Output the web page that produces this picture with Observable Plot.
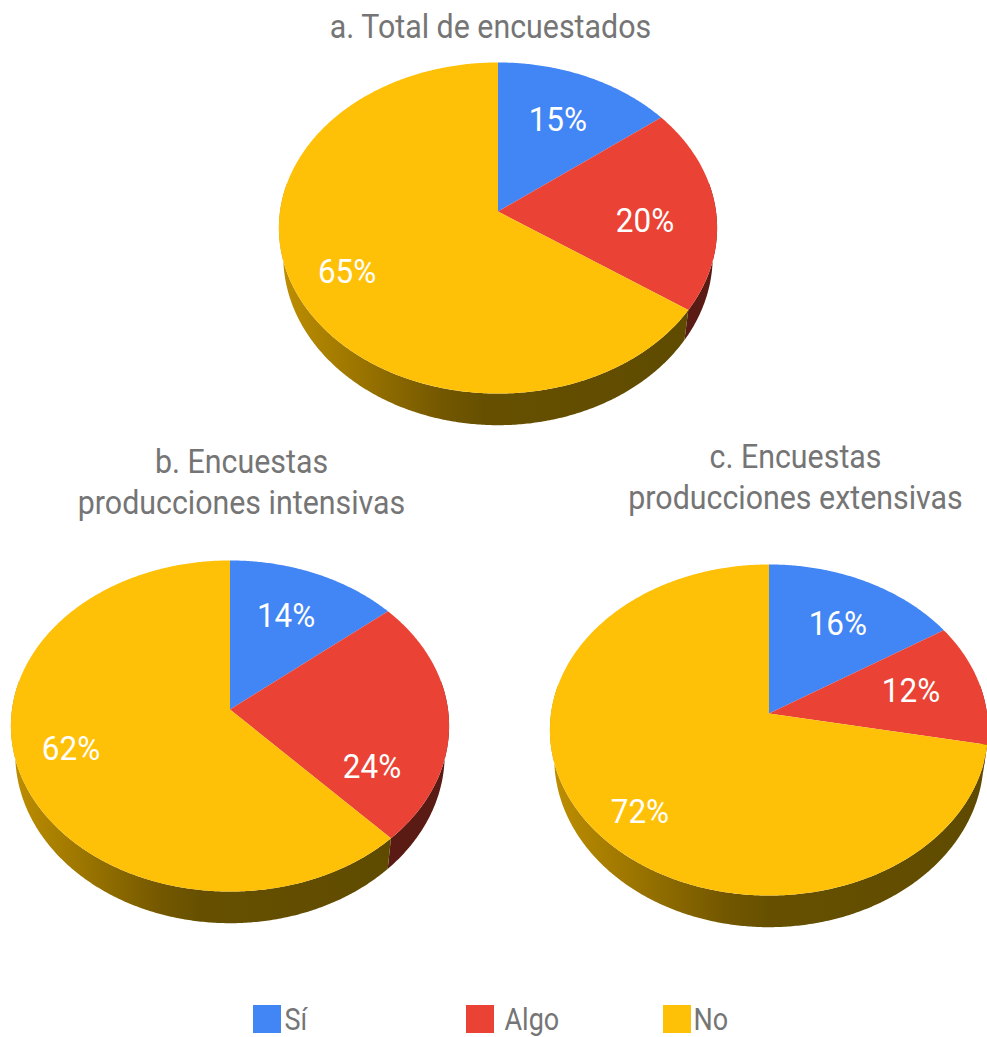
<!DOCTYPE html>
<html>
<head>
<meta charset="utf-8">
<script src="https://cdn.jsdelivr.net/npm/d3@7"></script>
<script src="https://cdn.jsdelivr.net/npm/@observablehq/plot@0.6"></script>
<style>html,body{margin:0;padding:0;background:#fff}svg{display:block}</style>
</head>
<body>
<div id="chart"></div>
<script>
// Data
const categories = ["Sí", "Algo", "No"];
const totalValues = [14.6, 20, 65.4];
const intensiveValues = [14, 24, 62];
const extensiveValues = [16, 12, 72];
const shownLabels = [["15%", "20%", "65%"], ["14%", "24%", "62%"], ["16%", "12%", "72%"]];
const titleLines = [["a. Total de encuestados"], ["b. Encuestas", "producciones intensivas"], ["c. Encuestas", "producciones extensivas"]];

// Styles
const faceColors = ["#4285f4", "#ea4335", "#ffc107"];
const sideFills = ["#1d3f7a", "#5a1b15", "url(#sideNo)"];
const textColor = "#757575";
const W = 987, H = 1037;
const textSqueeze = [0.925, 0.92, 0.87]; // percent labels, titles, legend

// Layout: pie centres, title anchors, label polar placement
const pieCx = [497.5, 229.5, 768.5], pieCy = [211, 709, 713];
const titleX = [490, 241, 795], titleY = [[27], [462, 503], [457, 498]];
const labelAngle = [[26.3, 95.2, 241.7], [24.4, 118.5, 251.5], [30.2, 78.4, 224.4]];
const labelRadius = [[.656, .673, .758], [.66, .716, .751], [.664, .674, .798]];
const legendX = [253, 466, 663], legendTextX = [284, 504, 693];
const legendY = 1005, legendSize = 28;

// Tilted-disc projection of the unit circle
const A = 218, B = 163.9, K = 0.0997, RIM_SX = 0.98, RIM_SY = 1.02, RIM_DROP = 28;
function proj(p, deg, r = 1, rim = false) {
  const t = deg * Math.PI / 180, u = r * Math.sin(t), v = r * Math.cos(t), w = 1 + K * v;
  const sx = rim ? RIM_SX : 1, sy = rim ? RIM_SY : 1, d = rim ? RIM_DROP : 0;
  return {x: pieCx[p] + sx * A * u / w, y: pieCy[p] + d - sy * B * v / w};
}
const allValues = [totalValues, intensiveValues, extensiveValues];
const faces = [], sides = [], labels = [];
allValues.forEach((vals, p) => {
  const total = d3.sum(vals);
  let acc = 0;
  vals.forEach((val, i) => {
    const a0 = acc / total * 360, a1 = (acc + val) / total * 360;
    acc += val;
    const id = `f${p}-${i}`;
    faces.push({id, category: categories[i], ...proj(p, 0, 0)});
    const steps = Math.ceil(a1 - a0) * 2;
    for (let k = 0; k <= steps; k++) faces.push({id, category: categories[i], ...proj(p, a0 + (a1 - a0) * k / steps)});
    const s0 = Math.max(a0, 80), s1 = Math.min(a1, 280);
    if (s1 > s0) {
      const n = Math.ceil(s1 - s0) * 2, sid = `s${p}-${i}`;
      for (let k = 0; k <= n; k++) sides.push({id: sid, cat: i, ...proj(p, s0 + (s1 - s0) * k / n)});
      for (let k = n; k >= 0; k--) sides.push({id: sid, cat: i, ...proj(p, s0 + (s1 - s0) * k / n, 1, true)});
    }
    labels.push({text: shownLabels[p][i], ...proj(p, labelAngle[p][i], labelRadius[p][i])});
  });
});
const titles = titleLines.flatMap((lines, p) => lines.map((text, i) => ({text, x: titleX[p], y: titleY[p][i]})));
const legend = categories.map((c, i) => ({c, x1: legendX[i], x2: legendX[i] + legendSize, tx: legendTextX[i]}));

function gradientDefs() {
  const ns = "http://www.w3.org/2000/svg";
  const defs = document.createElementNS(ns, "defs");
  const g = document.createElementNS(ns, "linearGradient");
  g.setAttribute("id", "sideNo");
  [[0, "#bf8f00"], [.2, "#9a7400"], [.4, "#735700"], [.5, "#665000"], [1, "#5f4b00"]].forEach(([o, c]) => {
    const s = document.createElementNS(ns, "stop");
    s.setAttribute("offset", o); s.setAttribute("stop-color", c);
    g.appendChild(s);
  });
  defs.appendChild(g);
  return defs;
}

const chart = Plot.plot({
  width: W, height: H, margin: 0,
  x: {domain: [0, W], range: [0, W], axis: null},
  y: {domain: [0, H], range: [0, H], axis: null},
  color: {domain: categories, range: faceColors},
  style: {background: "#fff", fontFamily: "Roboto"},
  marks: [
    gradientDefs,
    ...sideFills.map((f, i) => Plot.line(sides.filter(d => d.cat === i), {x: "x", y: "y", z: "id", fill: f, stroke: "none"})),
    Plot.line(faces, {x: "x", y: "y", z: "id", fill: "category", stroke: "none"}),
    Plot.text(labels, {x: "x", y: "y", text: "text", fill: "#fff", fontSize: 34, fontFamily: "Roboto"}),
    Plot.text(titles, {x: "x", y: "y", text: "text", fill: textColor, fontSize: 33, fontFamily: "Roboto"}),
    Plot.rectY(legend, {x1: "x1", x2: "x2", y1: () => legendY, y2: () => legendY + legendSize, fill: "c"}),
    Plot.text(legend, {x: "tx", y: () => legendY + legendSize / 2 + 1, text: "c", textAnchor: "start", fill: textColor, fontSize: 31, fontFamily: "Roboto"})
  ]
});
document.getElementById("chart").appendChild(chart);
// The reference's lettering is horizontally condensed: squeeze the glyphs, keeping real text.
chart.querySelectorAll('g[aria-label="text"]').forEach((g, i) => {
  g.querySelectorAll("text").forEach(t => {
    t.setAttribute("textLength", t.getComputedTextLength() * textSqueeze[i]);
    t.setAttribute("lengthAdjust", "spacingAndGlyphs");
  });
});
</script>
</body>
</html>
